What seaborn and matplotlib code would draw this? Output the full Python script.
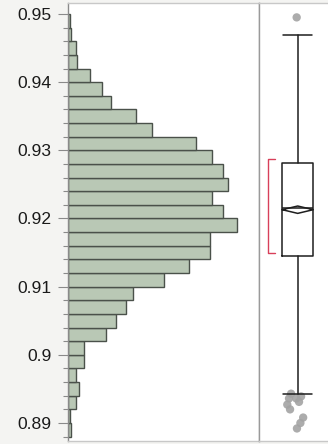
import numpy as np
import pandas as pd
import matplotlib
matplotlib.use("Agg")
import matplotlib.pyplot as plt
import seaborn as sns

# histogram: bin edges every 0.002, counts listed from top bin (0.948-0.950) down
bin_lo, bin_hi, bin_w = 0.888, 0.950, 0.002
counts_top_down = [1, 2, 4.5, 5.5, 13, 20, 25, 40, 49, 75, 84.5, 91, 94, 84.5, 91,
                   99, 83, 83, 71, 56, 38, 34, 28, 22.5, 9.5, 9.5, 4.5, 6.5, 4.5, 1, 2]

# box plot summary
q1, med, q3 = 0.9145, 0.9216, 0.9282
whis_lo, whis_hi = 0.8942, 0.9469
mean_val, mean_ci = 0.92129, 0.00054
short_half = (0.9150, 0.9287)

# outliers (x is jitter inside the box panel)
out_x = [0.546, 0.465, 0.435, 0.41, 0.45, 0.54, 0.61, 0.58, 0.64, 0.60, 0.55]
out_y = [0.9495, 0.8943, 0.8936, 0.8927, 0.8920, 0.8936, 0.8939, 0.8931, 0.8908, 0.8900, 0.8892]

tick_vals = [0.89, 0.9, 0.91, 0.92, 0.93, 0.94, 0.95]

sns.set_theme(style="white")
plt.rcParams['font.family'] = ['Liberation Sans', 'DejaVu Sans']

fig = plt.figure(figsize=(3.28, 4.44), dpi=100, facecolor="#f4f4f2")
ax = fig.add_axes([68 / 328, 3 / 444, 191 / 328, 438 / 444])
bx = fig.add_axes([259 / 328, 3 / 444, 69 / 328, 438 / 444], sharey=ax)

edges = np.linspace(bin_lo, bin_hi, len(counts_top_down) + 1)
hist_df = pd.DataFrame({
    "value": (edges[:-1] + edges[1:]) / 2,
    "count": counts_top_down[::-1],
})
sns.histplot(data=hist_df, y="value", weights="count", bins=list(edges), ax=ax,
             color="#b9c8b5", edgecolor="#4a514a", linewidth=1.0, alpha=1.0)

ax.set_xlim(0, 112)
ax.set_ylim(0.88736, 0.95161)
ax.set_xticks([])
ax.set_xlabel("")
ax.set_ylabel("")
ax.set_yticks(tick_vals)
ax.set_yticklabels([f"{v:g}" for v in tick_vals])
ax.set_yticks(np.arange(0.888, 0.9501, bin_w), minor=True)
ax.tick_params(axis="y", which="major", left=True, length=7.5, width=0.8,
               color="#8a8a8a", pad=4.2, labelsize=12.6, labelcolor="#1a1a1a")
ax.tick_params(axis="y", which="minor", left=True, length=3.8, width=0.8, color="#8a8a8a")
ax.set_facecolor("white")
for name, sp in ax.spines.items():
    sp.set_linewidth(1.0)
    sp.set_color("#c8c8c8")
ax.spines["left"].set_color("#8a8a8a")
ax.spines["right"].set_color("#9a9a9a")

# box plot panel
pos, width, capw = 0.561, 0.449, 0.426
stats = [dict(med=med, q1=q1, q3=q3, whislo=whis_lo, whishi=whis_hi, fliers=[])]
bx.bxp(stats, positions=[pos], widths=[width], capwidths=[capw], showfliers=False,
       manage_ticks=False,
       boxprops=dict(color="#1e1e1e", linewidth=1.1),
       whiskerprops=dict(color="#1e1e1e", linewidth=1.1),
       capprops=dict(color="#1e1e1e", linewidth=1.1),
       medianprops=dict(color="#1e1e1e", linewidth=1.1))

# mean diamond
dx = [pos - width / 2, pos, pos + width / 2, pos, pos - width / 2]
dy = [mean_val, mean_val + mean_ci, mean_val, mean_val - mean_ci, mean_val]
bx.plot(dx, dy, color="#1e1e1e", linewidth=1.1)

# shortest half bracket
bx.plot([0.232, 0.135, 0.135, 0.232], [short_half[0], short_half[0], short_half[1], short_half[1]],
        color="#d8405a", linewidth=1.0)

sns.scatterplot(x=out_x, y=out_y, ax=bx, color="#a3a3a3", s=36, edgecolor="none", alpha=0.9)

bx.set_xlim(0, 1)
bx.set_facecolor("white")
bx.tick_params(left=False, labelleft=False, bottom=False, labelbottom=False)
bx.set_xticks([])
for name, sp in bx.spines.items():
    sp.set_linewidth(1.0)
    sp.set_color("#c8c8c8")
bx.spines["left"].set_color("#9a9a9a")
bx.spines["right"].set_visible(False)

fig.savefig("out.png", dpi=100, facecolor=fig.get_facecolor())
